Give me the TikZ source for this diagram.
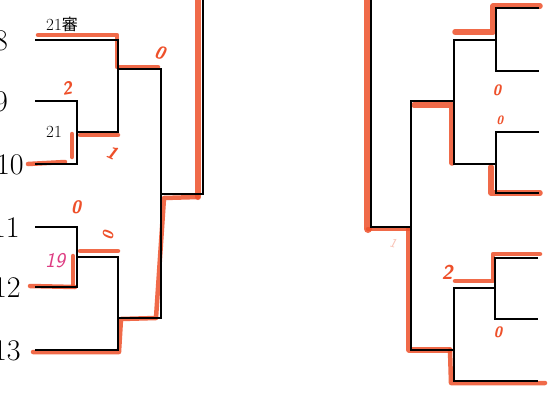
\documentclass[tikz,border=0pt]{standalone}
\usepackage{fontspec}
\newfontfamily\cjk{Noto Sans CJK JP}
\definecolor{mk}{RGB}{238,80,42}
\definecolor{pk}{RGB}{222,60,130}
\begin{document}
\begin{tikzpicture}[x=1pt,y=-1pt,
  br/.style={black, line width=1.8pt, line join=miter},
  hl/.style={mk, line width=4.5pt, opacity=0.85, line cap=round, line join=round},
  num/.style={font=\fontsize{30}{30}\selectfont, anchor=base west, inner sep=0pt},
  small/.style={font=\fontsize{17}{17}\selectfont, inner sep=0pt},
  hw/.style={mk, font=\sffamily\bfseries\itshape\fontsize{18}{18}\selectfont, inner sep=0pt}]
\useasboundingbox (0,0) rectangle (549,405);
\clip (0,0) rectangle (549,405);
\fill[white] (0,0) rectangle (549,405);

% ---------- coordinates (left) ----------
\coordinate (p8) at (35,40);   \coordinate (j8) at (118,40);
\coordinate (p9) at (35,101);  \coordinate (j9) at (77,101);
\coordinate (p10) at (35,164); \coordinate (j10) at (77,164);
\coordinate (m910) at (77,132); \coordinate (k910) at (118,132);
\coordinate (a1) at (118,69);  \coordinate (a2) at (161,69);
\coordinate (p11) at (35,227); \coordinate (j11) at (77,227);
\coordinate (p12) at (35,287); \coordinate (j12) at (77,287);
\coordinate (m1112) at (77,257); \coordinate (k1112) at (118,257);
\coordinate (p13) at (35,350); \coordinate (j13) at (118,350);
\coordinate (b1) at (118,318); \coordinate (b2) at (161,318);
\coordinate (c1) at (161,194); \coordinate (c2) at (203,194); \coordinate (c3) at (203,-5);

% ---------- coordinates (right) ----------
\coordinate (r0) at (371,-5); \coordinate (r1) at (371,227); \coordinate (r2) at (411,227);
\coordinate (s1) at (411,101); \coordinate (s2) at (411,350);
\coordinate (t1) at (454,101); \coordinate (t2) at (454,40); \coordinate (t3) at (454,164);
\coordinate (u1) at (496,40); \coordinate (u2) at (496,8); \coordinate (u3) at (496,71);
\coordinate (ue2) at (539,8); \coordinate (ue3) at (539,71);
\coordinate (v1) at (496,164); \coordinate (v2) at (496,132); \coordinate (v3) at (496,193);
\coordinate (ve2) at (539,132); \coordinate (ve3) at (539,193);
\coordinate (w1) at (454,350); \coordinate (w2) at (454,288); \coordinate (w3) at (454,381);
\coordinate (we3) at (538,381);
\coordinate (x1) at (495,288); \coordinate (x2) at (495,258); \coordinate (x3) at (495,319);
\coordinate (xe2) at (538,258); \coordinate (xe3) at (538,319);

% ---------- orange highlights ----------
\draw[hl] (38,35) -- (117,35) -- (117,67) -- (158,67);
\draw[hl] (28,164) -- (65,162);
\draw[hl] (72,134) -- (72,157);
\draw[hl] (80,135) -- (118,135);
\draw[hl] (80,251) -- (118,251);
\draw[hl] (73,256) -- (73,285);
\draw[hl] (30,286) -- (75,287);
\draw[hl, line width=6pt] (198,-5) -- (198,197);
\draw[hl] (198,197) -- (164,198) -- (156,318) -- (121,319) -- (119,352) -- (33,352);
\draw[hl, line width=8pt] (368,-5) -- (368,229);
\draw[hl] (368,229) -- (409,229);
\draw[hl, line width=5.5pt] (409,229) -- (409,350) -- (450,350);
\draw[hl] (450,350) -- (451,383) -- (545,383);
\draw[hl, line width=5.5pt] (455,32) -- (493,32) -- (493,6) -- (540,6);
\draw[hl, line width=5.5pt] (414,105) -- (452,105) -- (452,163);
\draw[hl, line width=5.5pt] (491,167) -- (491,193) -- (540,193);
\draw[hl] (455,281) -- (493,281) -- (493,254) -- (540,254);

% ---------- black bracket (left) ----------
\draw[br] (p8) -- (j8) -- (k910) -- (m910);
\draw[br] (p9) -- (j9) -- (j10) -- (p10);
\draw[br] (a1) -- (a2) -- (b2) -- (b1);
\draw[br] (p11) -- (j11) -- (j12) -- (p12);
\draw[br] (m1112) -- (k1112) -- (j13) -- (p13);
\draw[br] (c1) -- (c2) -- (c3);

% ---------- black bracket (right) ----------
\draw[br] (r0) -- (r1) -- (r2);
\draw[br] (t1) -- (s1) -- (s2) -- (w1);
\draw[br] (ue2) -- (u2) -- (u3) -- (ue3);
\draw[br] (u1) -- (t2) -- (t3) -- (v1);
\draw[br] (ve2) -- (v2) -- (v3) -- (ve3);
\draw[br] (x1) -- (w2) -- (w3) -- (we3);
\draw[br] (xe2) -- (x2) -- (x3) -- (xe3);

% ---------- printed labels ----------
\node[num] (n8) at (-6,50) {8};
\node[num] (n9) at (-6,111) {9};
\node[num] (n10) at (-4,174) {10};
\node[num] (n11) at (-8,237) {11};
\node[num] (n12) at (-7,297) {12};
\node[num] (n13) at (-7,360) {13};
\node[small] (ref) at (62,24) {21{\cjk\fontsize{16}{16}\selectfont 審}};
\node[small] (sc) at (54,132) {21};

% ---------- handwritten marks ----------
\node[hw, rotate=-15] (h1) at (160,53) {0};
\node[hw, rotate=10] (h2) at (67,88) {2};
\node[hw, rotate=-25] (h3) at (112,153) {1};
\node[hw] (h4) at (76,207) {0};
\node[hw, rotate=80, font=\sffamily\bfseries\itshape\fontsize{15}{15}\selectfont] (h5) at (108,236) {0};
\node[hw, pk, font=\sffamily\itshape\fontsize{21}{21}\selectfont] (h6) at (55,261) {19};
\node[hw, font=\sffamily\bfseries\itshape\fontsize{15}{15}\selectfont] (h7) at (497,90) {0};
\node[hw, font=\sffamily\bfseries\itshape\fontsize{12}{12}\selectfont] (h8) at (500,120) {0};
\node[hw, opacity=0.35, rotate=-15, font=\sffamily\itshape\fontsize{13}{13}\selectfont] (h9) at (393,243) {1};
\node[hw, font=\sffamily\bfseries\itshape\fontsize{20}{20}\selectfont] (h10) at (447,272) {2};
\node[hw, font=\sffamily\bfseries\itshape\fontsize{15}{15}\selectfont] (h11) at (498,332) {0};
\end{tikzpicture}
\end{document}
